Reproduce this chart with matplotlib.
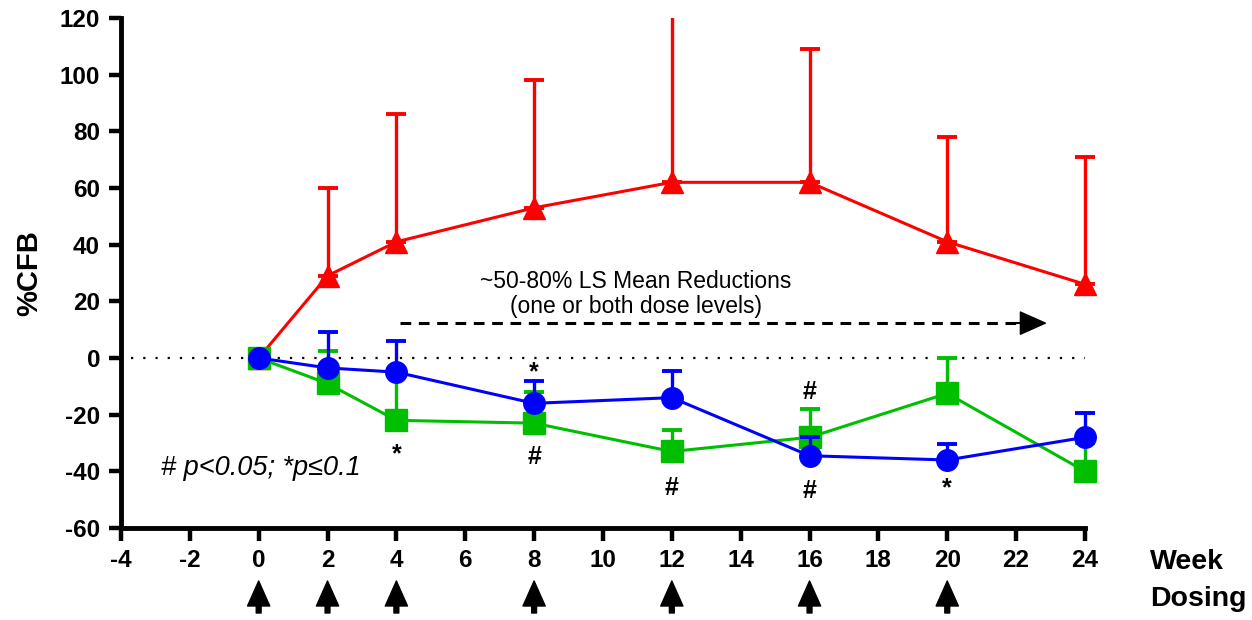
import numpy as np
import matplotlib
matplotlib.use('Agg')
import matplotlib.pyplot as plt
from matplotlib.patches import Rectangle
from matplotlib.transforms import blended_transform_factory

plt.rcParams['font.family'] = ['Liberation Sans', 'DejaVu Sans']
plt.rcParams['axes.unicode_minus'] = False

# --- data ---
weeks = [0, 2, 4, 8, 12, 16, 20, 24]

red_mean = [0, 29, 41, 53, 62, 62, 41, 26]
red_upper = [0, 60, 86, 98, 125, 109, 78, 71]

blue_mean = [0, -3.5, -5, -16, -14, -34.5, -36, -28]
blue_upper = [0, 9, 6, -8, -4.5, -28, -30.5, -19.5]

green_mean = [0, -9, -22, -23, -33, -28, -12.5, -40]
green_upper = [0, 2.5, -4, -12, -25.5, -18, 0, -30]

dosing_weeks = [0, 2, 4, 8, 12, 16, 20]

# significance marks: (x, y, symbol)
sig_marks = [
    (4, -34, '*'),
    (8, -5, '*'),
    (8, -35, '#'),
    (12, -46, '#'),
    (16, -12, '#'),
    (16, -47, '#'),
    (20, -46, '*'),
]

# --- plot ---
fig = plt.figure(figsize=(12.52, 6.2), dpi=100)
ax = fig.add_axes([0.0966, 0.1484, 0.77, 0.8226])

# clip only at the top of the axes (red bar at week 12 runs off the top)
clip_rect = Rectangle((-0.1, -0.2), 1.2, 1.2, transform=ax.transAxes, fill=False, visible=False)
ax.add_patch(clip_rect)

series = [
    (red_mean, red_upper, '#FF0000', '^', 1),
    (green_mean, green_upper, '#00BF00', 's', 2),
    (blue_mean, blue_upper, '#0000FF', 'o', 3),
]
for mean, upper, col, mk, z in series:
    mean = np.array(mean, dtype=float)
    err = np.array(upper, dtype=float) - mean
    cont = ax.errorbar(weeks, mean, yerr=[np.zeros_like(err), err], color=col,
                       marker=mk, markersize=15.5, linewidth=2.2, elinewidth=2.4,
                       capsize=7.5, capthick=2.8, zorder=z)
    for art in cont.get_children():
        art.set_clip_path(clip_rect)

ax.plot([-3.7, 24], [0, 0], color='black', linestyle=(0, (1, 4.5)), linewidth=1.6, zorder=0)

# dashed arrow
ax.plot([4.1, 22.0], [12.3, 12.3], color='black', linestyle=(0, (3.5, 2.5)), linewidth=2.2)
ax.annotate('', xy=(22.85, 12.3), xytext=(21.9, 12.3),
            arrowprops=dict(facecolor='black', edgecolor='black', width=0.1,
                            headwidth=16, headlength=18))

ax.text(10.95, 27, '~50-80% LS Mean Reductions', ha='center', va='center', fontsize=16.5)
ax.text(10.95, 18.3, '(one or both dose levels)', ha='center', va='center', fontsize=16.5)

ax.text(-2.85, -39, '# p<0.05; *p\u22640.1', ha='left', va='center', fontsize=19.5, style='italic')

for x, y, s in sig_marks:
    ax.text(x, y, s, ha='center', va='center', fontsize=18, fontweight='bold')

# axes styling
ax.set_xlim(-4, 24)
ax.set_ylim(-60, 120)
ax.set_xticks(np.arange(-4, 25, 2))
ax.set_yticks(np.arange(-60, 121, 20))
for side in ['top', 'right']:
    ax.spines[side].set_visible(False)
for side in ['left', 'bottom']:
    ax.spines[side].set_linewidth(3.5)
ax.tick_params(direction='out', length=9, width=3.2, labelsize=17.5, pad=6)
for lbl in ax.get_xticklabels() + ax.get_yticklabels():
    lbl.set_fontweight('bold')
ax.set_ylabel('%CFB', fontsize=21, fontweight='bold', labelpad=12)

# dosing arrows below axis
trans = blended_transform_factory(ax.transData, fig.transFigure)
for w in dosing_weeks:
    ax.annotate('', xy=(w, 1 - 581 / 620), xytext=(w, 1 - 613 / 620),
                xycoords=trans, textcoords=trans,
                arrowprops=dict(facecolor='black', edgecolor='black', width=3.5,
                                headwidth=16, headlength=18), annotation_clip=False)

fig.text(1150 / 1252, 1 - 562 / 620, 'Week', fontsize=20.5, fontweight='bold', va='center')
fig.text(1150 / 1252, 1 - 599 / 620, 'Dosing', fontsize=20.5, fontweight='bold', va='center')

fig.savefig('out.png', dpi=100)
